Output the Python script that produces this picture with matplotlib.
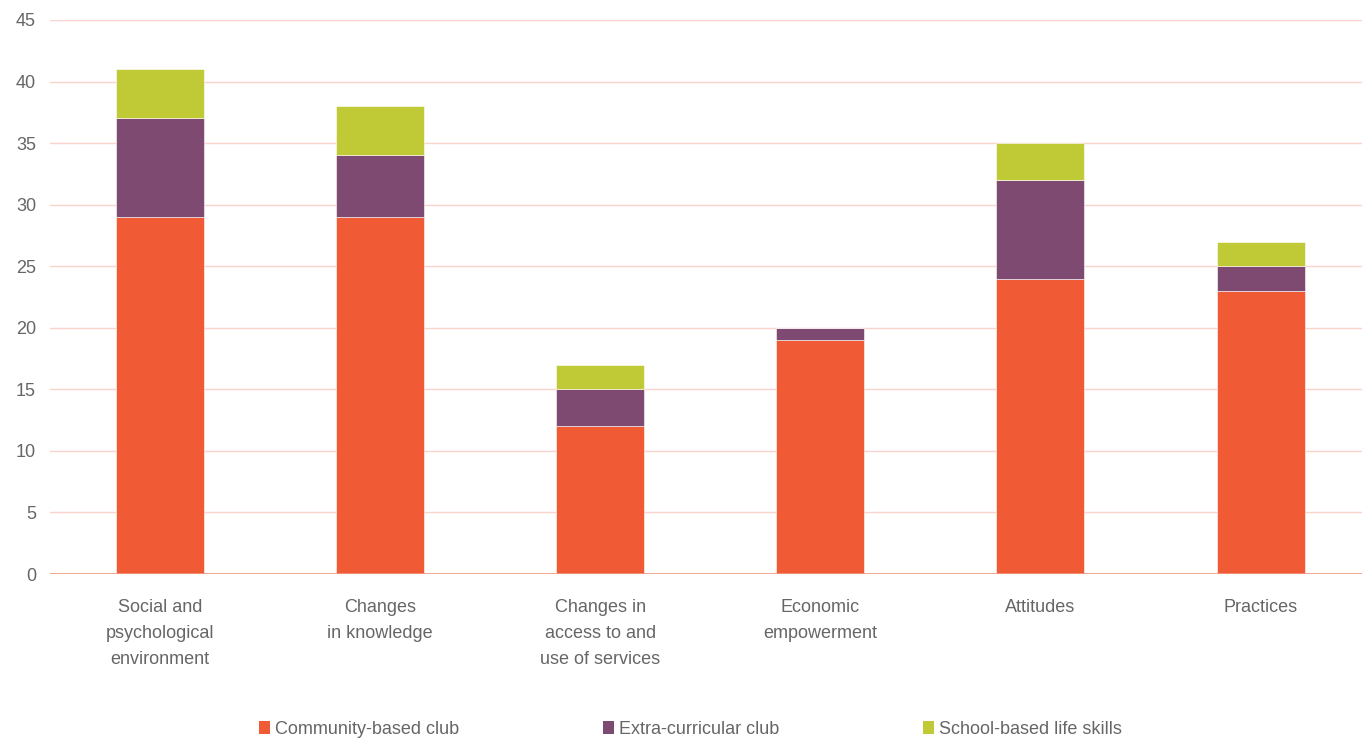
import matplotlib.pyplot as plt
import numpy as np
from matplotlib.patches import Patch

plt.rcParams["font.family"] = ["Liberation Sans", "DejaVu Sans"]

categories = [
    "Social and\npsychological\nenvironment",
    "Changes\nin knowledge",
    "Changes in\naccess to and\nuse of services",
    "Economic\nempowerment",
    "Attitudes",
    "Practices",
]
community = [29, 29, 12, 19, 24, 23]
extra = [8, 5, 3, 1, 8, 2]
school = [4, 4, 2, 0, 3, 2]
series_names = ["Community-based club", "Extra-curricular club", "School-based life skills"]

colors = ["#F05A35", "#7F4A72", "#C0CA37"]
text_color = "#666666"

fig = plt.figure(figsize=(13.7, 7.38), dpi=100)
ax = fig.add_axes([0.0365, 0.2222, 0.9575, 0.7507])

x = np.arange(len(categories))
bottom = np.zeros(len(categories))
for values, color in zip([community, extra, school], colors):
    ax.bar(x, values, width=0.4, bottom=bottom, color=color,
           edgecolor="white", linewidth=0.4, zorder=3)
    bottom += np.asarray(values, dtype=float)

ax.set_xlim(-0.5, 5.46)
ax.set_ylim(0, 45)
ax.set_yticks(np.arange(0, 46, 5))
ax.yaxis.grid(True, color="#FAD4CC", linewidth=1.0, zorder=0)
ax.axhline(0, color="#F0997F", linewidth=1.2, zorder=4)

for side in ["top", "right", "left", "bottom"]:
    ax.spines[side].set_visible(False)

ax.tick_params(axis="y", length=0, pad=10, labelsize=13, labelcolor=text_color)
ax.tick_params(axis="x", length=0, pad=18, labelsize=13, labelcolor=text_color)
ax.set_xticks(x)
ax.set_xticklabels(categories, linespacing=1.7)

handles = [Patch(facecolor=c, edgecolor="none") for c in colors]
fig.legend(
    handles,
    series_names,
    loc="center",
    bbox_to_anchor=(0.504, 0.012),
    ncol=3,
    frameon=False,
    fontsize=13,
    labelcolor=text_color,
    handlelength=0.6,
    handleheight=0.7,
    handletextpad=0.25,
    columnspacing=8.0,
)

fig.savefig("out.png", dpi=100)
